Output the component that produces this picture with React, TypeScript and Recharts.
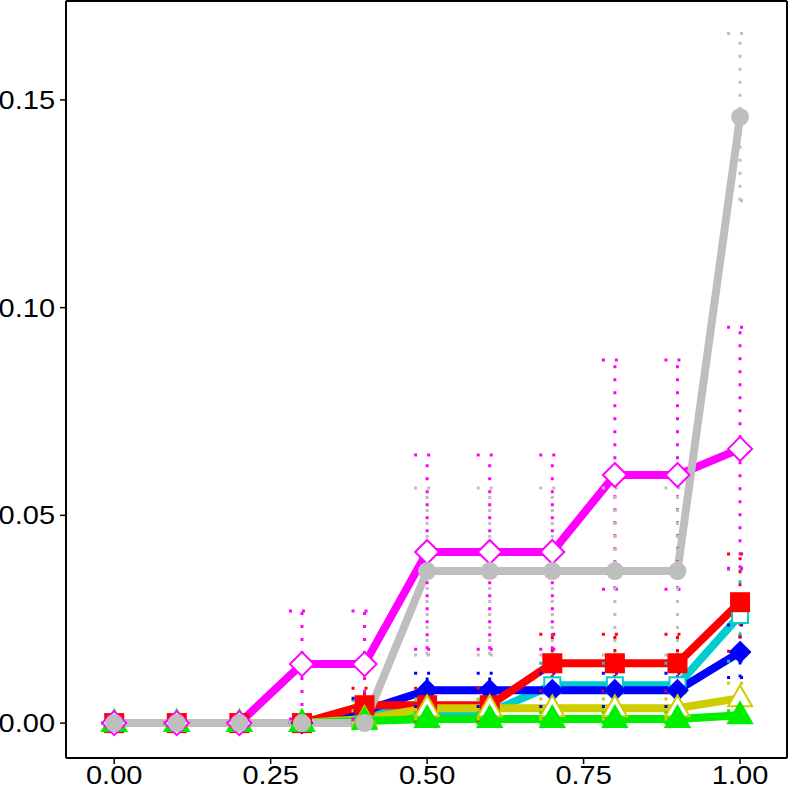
import React from 'react';
import { LineChart, Line, XAxis, YAxis, ErrorBar } from 'recharts';

const xs = [0, 0.1, 0.2, 0.3, 0.4, 0.5, 0.6, 0.7, 0.8, 0.9, 1.0];
const xTicks = [0, 0.25, 0.5, 0.75, 1];
const yTicks = [0, 0.05, 0.1, 0.15];

const grayVal = [0, 0, 0, 0, 0, 0.0366, 0.0366, 0.0366, 0.0366, 0.0366, 0.1459];
const grayHi = [0, 0, 0, 0, 0, 0.0566, 0.0566, 0.0566, 0.0566, 0.0566, 0.166];
const grayLo = [0, 0, 0, 0, 0, 0.0164, 0.0164, 0.0164, 0.0164, 0.0164, 0.1257];

const magVal = [0, 0, 0, 0.0142, 0.0142, 0.0412, 0.0412, 0.0412, 0.0597, 0.0597, 0.066];
const magHi = [0, 0, 0, 0.027, 0.027, 0.0645, 0.0645, 0.0645, 0.0874, 0.0874, 0.0953];
const magLo = [0, 0, 0, 0.001, 0.001, 0.0178, 0.0178, 0.0178, 0.0322, 0.0322, 0.0373];

const redVal = [0, 0, 0, 0, 0.0043, 0.0043, 0.0043, 0.0144, 0.0144, 0.0144, 0.0291];
const redHi = [0, 0, 0, 0, 0.0084, 0.0084, 0.0084, 0.0214, 0.0214, 0.0214, 0.0407];
const redLo = [0, 0, 0, 0, 0.0003, 0.0003, 0.0003, 0.0077, 0.0077, 0.0077, 0.0173];

const cyanVal = [0, 0, 0, 0, 0.0024, 0.0026, 0.0026, 0.0091, 0.0091, 0.0091, 0.026];
const cyanHi = [0, 0, 0, 0, 0.0055, 0.0055, 0.0055, 0.0144, 0.0144, 0.0144, 0.037];
const cyanLo = [0, 0, 0, 0, 0, 0, 0, 0.0014, 0.0014, 0.0014, 0.0149];

const blueVal = [0, 0, 0, 0, 0.003, 0.0079, 0.0079, 0.0079, 0.0079, 0.0079, 0.0171];
const blueHi = [0, 0, 0, 0, 0.006, 0.012, 0.012, 0.012, 0.012, 0.012, 0.0236];
const blueLo = [0, 0, 0, 0, 0, 0.004, 0.004, 0.004, 0.004, 0.004, 0.011];

const yelVal = [0, 0, 0, 0, 0.001, 0.0036, 0.0036, 0.0036, 0.0036, 0.0036, 0.006];
const yelHi = [0, 0, 0, 0, 0.003, 0.0058, 0.0058, 0.0058, 0.0058, 0.0058, 0.0096];
const yelLo = [0, 0, 0, 0, 0, 0.001, 0.001, 0.001, 0.001, 0.001, 0.0012];

const grnVal = [0, 0, 0, 0, 0.0005, 0.001, 0.001, 0.001, 0.001, 0.001, 0.0019];
const grnHi = [0, 0, 0, 0, 0.001, 0.0025, 0.0025, 0.0025, 0.0025, 0.0025, 0.003];
const grnLo = [0, 0, 0, 0, 0, 0, 0, 0, 0, 0, 0.0012];

const series = [
  { key: 'cyan', color: '#00CDCD', shape: 'square', filled: false, val: cyanVal, hi: cyanHi, lo: cyanLo },
  { key: 'blue', color: '#0000FF', shape: 'diamond', filled: true, val: blueVal, hi: blueHi, lo: blueLo },
  { key: 'red', color: '#FF0000', shape: 'square', filled: true, val: redVal, hi: redHi, lo: redLo },
  { key: 'yel', color: '#CDCD00', shape: 'triangle', filled: false, val: yelVal, hi: yelHi, lo: yelLo },
  { key: 'grn', color: '#00EE00', shape: 'triangle', filled: true, val: grnVal, hi: grnHi, lo: grnLo },
  { key: 'mag', color: '#FF00FF', shape: 'diamond', filled: false, val: magVal, hi: magHi, lo: magLo },
  { key: 'gray', color: '#BEBEBE', shape: 'circle', filled: true, val: grayVal, hi: grayHi, lo: grayLo },
];

const data = xs.map((x, i) => {
  const row: any = { x };
  series.forEach((s) => {
    row[s.key] = s.val[i];
    row[s.key + 'Err'] = [s.val[i] - s.lo[i], s.hi[i] - s.val[i]];
  });
  return row;
});

function makeDot(shape: string, color: string, filled: boolean) {
  return (p: any) => {
    const { cx, cy, index } = p;
    const fill = filled ? color : '#FFFFFF';
    const sw = 2;
    if (cx == null || cy == null) return <g key={index} />;
    if (shape === 'circle') return <circle key={index} cx={cx} cy={cy} r={9} fill={color} />;
    if (shape === 'square') {
      const h = filled ? 9 : 8;
      return <rect key={index} x={cx - h} y={cy - h} width={2 * h} height={2 * h} fill={fill} stroke={color} strokeWidth={sw} />;
    }
    if (shape === 'diamond') {
      const h = filled ? 10 : 12;
      return <polygon key={index} points={`${cx},${cy - h} ${cx + h},${cy} ${cx},${cy + h} ${cx - h},${cy}`} fill={fill} stroke={color} strokeWidth={sw} />;
    }
    return <polygon key={index} points={`${cx},${cy - 13} ${cx + 12},${cy + 8} ${cx - 12},${cy + 8}`} fill={fill} stroke={color} strokeWidth={sw} />;
  };
}

// Helvetica-like labels, a bit wide as in the reference
function XTick(p: any) {
  const { x, y, payload } = p;
  return (
    <g transform={`translate(${x},${y}) scale(1.16,1)`}>
      <text x={0} y={0} dy={19} textAnchor="middle" fontFamily="Liberation Sans" fontSize={25} fill="#000">
        {Number(payload.value).toFixed(2)}
      </text>
    </g>
  );
}

function YTick(p: any) {
  const { x, y, payload } = p;
  return (
    <g transform={`translate(${x},${y}) scale(1.16,1)`}>
      <text x={0} y={0} dy={9} textAnchor="end" fontFamily="Liberation Sans" fontSize={25} fill="#000">
        {Number(payload.value).toFixed(2)}
      </text>
    </g>
  );
}

const axisStyle = { stroke: '#000', strokeWidth: 2 };

export default function App() {
  return (
    <div style={{ position: 'absolute', left: 0, top: 0 }}>
      <LineChart width={789} height={789} data={data} margin={{ top: 0, right: 1, bottom: 0, left: 0 }}>
        <XAxis
          dataKey="x"
          type="number"
          domain={[-0.077, 1.075]}
          ticks={xTicks}
          height={31}
          tickSize={6}
          tickMargin={1}
          tick={<XTick />}
          axisLine={axisStyle}
          tickLine={{ stroke: '#000', strokeWidth: 1.5 }}
          allowDataOverflow
        />
        <XAxis xAxisId="top" orientation="top" dataKey="x" type="number" domain={[-0.077, 1.075]} height={1} tick={false} tickLine={false} axisLine={axisStyle} />
        <YAxis
          type="number"
          domain={[-0.0084, 0.1738]}
          ticks={yTicks}
          width={66}
          tickSize={6}
          tickMargin={5}
          tick={<YTick />}
          axisLine={axisStyle}
          tickLine={{ stroke: '#000', strokeWidth: 1.5 }}
          allowDataOverflow
        />
        <YAxis yAxisId="right" orientation="right" type="number" domain={[-0.0084, 0.1738]} width={1} tick={false} tickLine={false} axisLine={axisStyle} />
        {series.map((s) => (
          <Line
            key={s.key}
            dataKey={s.key}
            stroke={s.color}
            strokeWidth={8}
            strokeLinejoin="round"
            dot={makeDot(s.shape, s.color, s.filled)}
            activeDot={false}
            isAnimationActive={false}
          />
        ))}
        {series.map((s) => (
          <Line
            key={s.key + 'eb'}
            dataKey={s.key}
            stroke="none"
            dot={false}
            activeDot={false}
            legendType="none"
            isAnimationActive={false}
          >
            <ErrorBar dataKey={s.key + 'Err'} direction="y" width={13} stroke={s.color} strokeWidth={3} strokeDasharray="3 10" isAnimationActive={false} />
          </Line>
        ))}
      </LineChart>
    </div>
  );
}
